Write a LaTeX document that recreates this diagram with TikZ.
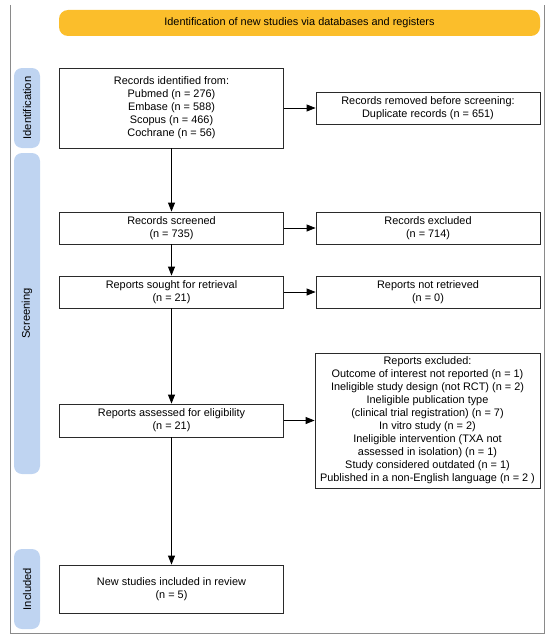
\documentclass[tikz,border=0pt]{standalone}
\usepackage{fontspec}
\setmainfont{Liberation Sans}
\usetikzlibrary{arrows.meta}
\definecolor{bannerY}{HTML}{FBBE2B}
\definecolor{phaseB}{HTML}{BFD4F1}
\definecolor{frameG}{HTML}{8A8A8A}
\definecolor{boxK}{HTML}{2A2A2A}
\begin{document}
\begin{tikzpicture}[x=1pt,y=-1pt,
  every node/.style={font=\fontsize{10.9}{13}\selectfont, inner sep=0pt},
  flowbox/.style={draw=boxK, line width=0.8pt, fill=white, align=center, minimum width=224pt},
  phase/.style={fill=phaseB, rounded corners=8pt, minimum width=26pt, rotate=90, anchor=center, font=\fontsize{11.2}{13}\selectfont},
  banner/.style={fill=bannerY, rounded corners=9pt, minimum width=481pt, minimum height=26pt},
  flowarrow/.style={draw=black, line width=0.8pt, -{Triangle[length=9pt,width=7pt]}}]
\useasboundingbox (0,0) rectangle (550,642);
% outer frame
\draw[frameG, line width=0.9pt] (10.7,5) -- (10.7,633) -- (544,633) -- (544,5);
% banner
\node[banner] (ban) at (299.5,23) {Identification of new studies via databases and registers};
% phase labels
\node[phase, minimum width=80pt, minimum height=26pt] (pid) at (27,108) {Identification};
\node[phase, minimum width=321pt, minimum height=26pt] (pscr) at (27,313.5) {Screening};
\node[phase, minimum width=80pt, minimum height=26pt] (pinc) at (27,589) {Included};
% boxes
\node[flowbox, minimum height=80pt] (ident) at (171.5,108) {Records identified from:\\Pubmed (n = 276)\\Embase (n = 588)\\Scopus (n = 466)\\Cochrane (n = 56)};
\node[flowbox, minimum height=32pt] (removed) at (428,108) {Records removed before screening:\\Duplicate records (n = 651)};
\node[flowbox, minimum height=32pt] (screened) at (171.5,228) {Records screened\\(n = 735)};
\node[flowbox, minimum height=32pt] (excl) at (428,228) {Records excluded\\(n = 714)};
\node[flowbox, minimum height=32pt] (sought) at (171.5,292) {Reports sought for retrieval\\(n = 21)};
\node[flowbox, minimum height=32pt] (notret) at (428,292) {Reports not retrieved\\(n = 0)};
\node[flowbox, minimum height=33pt] (assessed) at (171.5,420.5) {Reports assessed for eligibility\\(n = 21)};
\node[flowbox, minimum width=225pt, minimum height=135pt] (repexcl) at (427.5,420.5) {Reports excluded:\\Outcome of interest not reported (n = 1)\\Ineligible study design (not RCT) (n = 2)\\Ineligible publication type\\(clinical trial registration) (n = 7)\\In vitro study (n = 2)\\Ineligible intervention (TXA not\\assessed in isolation) (n = 1)\\Study considered outdated (n = 1)\\Published in a non-English language (n = 2 )};
\node[flowbox, minimum height=48pt] (incl) at (171.5,589) {New studies included in review\\(n = 5)};
% arrows
\draw[flowarrow] (ident) -- (removed);
\draw[flowarrow] (ident) -- (screened);
\draw[flowarrow] (screened) -- (excl);
\draw[flowarrow] (screened) -- (sought);
\draw[flowarrow] (sought) -- (notret);
\draw[flowarrow] (sought) -- (assessed);
\draw[flowarrow] (assessed) -- (repexcl);
\draw[flowarrow] (assessed) -- (incl);
\end{tikzpicture}
\end{document}
